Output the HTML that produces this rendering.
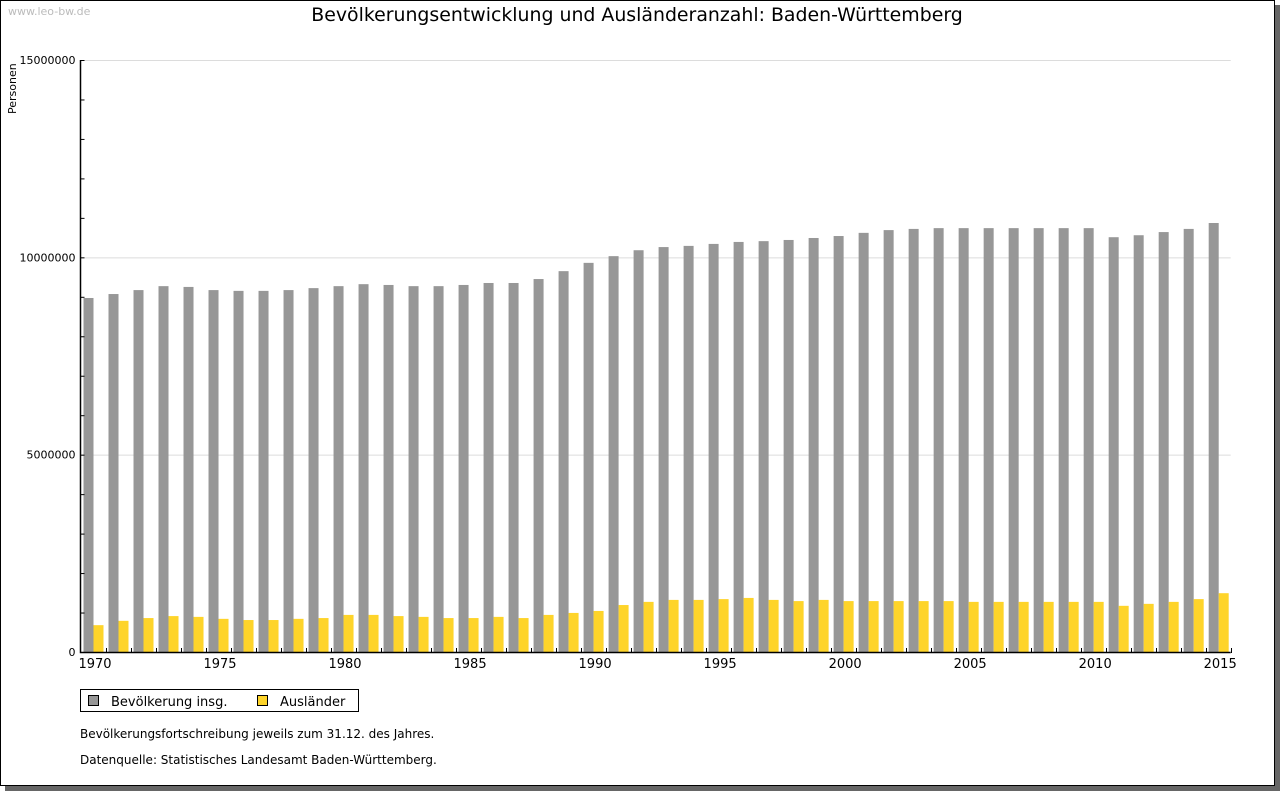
<!DOCTYPE html>
<html><head><meta charset="utf-8">
<style>
html,body{margin:0;padding:0;background:#fff;}
body{width:1280px;height:791px;position:relative;overflow:hidden;font-family:"DejaVu Sans","Liberation Sans",sans-serif;}
#frame{position:absolute;left:0;top:0;width:1273px;height:784px;border:1px solid #000;box-shadow:5px 5px 0 #666;background:#fff;}
</style></head>
<body>
<div id="frame"></div>
<svg id="chart" width="1280" height="791" style="position:absolute;left:0;top:0">
<text x="8" y="15" font-size="11" fill="#bbb">www.leo-bw.de</text>
<text x="637" y="21" font-size="18.9" text-anchor="middle" fill="#000">Bevölkerungsentwicklung und Ausländeranzahl: Baden-Württemberg</text>
<text transform="translate(16,114) rotate(-90)" font-size="11" fill="#000">Personen</text>
<g id="grid"></g><g id="bars"></g><g id="axes"></g>
<g>
<rect x="80.5" y="689.5" width="278" height="22" fill="#fff" stroke="#000"/>
<rect x="88.5" y="695.5" width="10" height="10" fill="#979797" stroke="#000"/>
<text x="111" y="706" font-size="13">Bevölkerung insg.</text>
<rect x="257.5" y="695.5" width="10" height="10" fill="#fed42a" stroke="#000"/>
<text x="280" y="706" font-size="13">Ausländer</text>
</g>
<text x="80" y="738" font-size="12">Bevölkerungsfortschreibung jeweils zum 31.12. des Jahres.</text>
<text x="80" y="764" font-size="12">Datenquelle: Statistisches Landesamt Baden-Württemberg.</text>
</svg>
<script>
const years=[];for(let y=1970;y<=2015;y++)years.push(y);
const population=[8.97,9.07,9.17,9.27,9.25,9.17,9.15,9.15,9.17,9.22,9.27,9.32,9.30,9.27,9.27,9.30,9.35,9.35,9.45,9.65,9.86,10.03,10.18,10.26,10.29,10.34,10.39,10.41,10.44,10.49,10.54,10.62,10.69,10.72,10.74,10.74,10.74,10.74,10.74,10.74,10.74,10.51,10.56,10.64,10.72,10.87].map(v=>v*1e6);
const foreigners=[0.68,0.79,0.86,0.91,0.89,0.84,0.81,0.81,0.84,0.86,0.94,0.94,0.91,0.89,0.86,0.86,0.89,0.86,0.94,0.99,1.04,1.19,1.27,1.32,1.32,1.34,1.37,1.32,1.29,1.32,1.29,1.29,1.29,1.29,1.29,1.27,1.27,1.27,1.27,1.27,1.27,1.17,1.22,1.27,1.34,1.49].map(v=>v*1e6);
const yTickLabels=["0","5000000","10000000","15000000"];
const yTickValues=[0,5e6,10e6,15e6];
const NS="http://www.w3.org/2000/svg";
const X0=80.5,X1=1230.7,Y0=652,Y1=60,YMAX=15e6;
const gw=(X1-X0)/years.length;
const ys=v=>Y0-(v/YMAX)*(Y0-Y1);
const xs=i=>X0+i*gw;
function mk(tag,attrs,parent){const e=document.createElementNS(NS,tag);for(const k in attrs)e.setAttribute(k,attrs[k]);parent.appendChild(e);return e;}
const grid=document.getElementById('grid'),bars=document.getElementById('bars'),axes=document.getElementById('axes');
yTickValues.forEach((v,i)=>{
  if(v>0){const l=mk('line',{x1:X0,x2:X1,y1:ys(v)+0.5,y2:ys(v)+0.5,stroke:'#dcdcdc'},grid);
  
  }
  const t=mk('text',{x:X0-5,y:ys(v)+4,'font-size':11,'text-anchor':'end'},axes);t.textContent=yTickLabels[i];
  
  
});
for(let m=0;m<=15;m++){const y=ys(m*1e6)+0.5;mk('line',{x1:X0,x2:X0+4,y1:y,y2:y,stroke:'#000'},axes);}
years.forEach((yr,i)=>{
  const g=xs(i);
  const b=mk('rect',{x:g+3,y:ys(population[i]),width:10,height:Y0-ys(population[i]),fill:'#979797'},bars);
  
  
  const f=mk('rect',{x:g+13,y:ys(foreigners[i]),width:10,height:Y0-ys(foreigners[i]),fill:'#fed42a'},bars);
  
  
  const tx=Math.round(g+gw)+0.5;
  mk('line',{x1:tx,x2:tx,y1:Y0-4,y2:Y0+1,stroke:'#000'},axes);
  if(yr%5===0){const t=mk('text',{x:g+14.5,y:Y0+16,'font-size':13,'text-anchor':'middle'},axes);t.textContent=yr;
    
    }
});
const ax=mk('path',{d:`M${X0} ${Y1}V${Y0+0.5}H${X1}`,fill:'none',stroke:'#000','stroke-width':1.5},axes);


</script>
</body></html>
